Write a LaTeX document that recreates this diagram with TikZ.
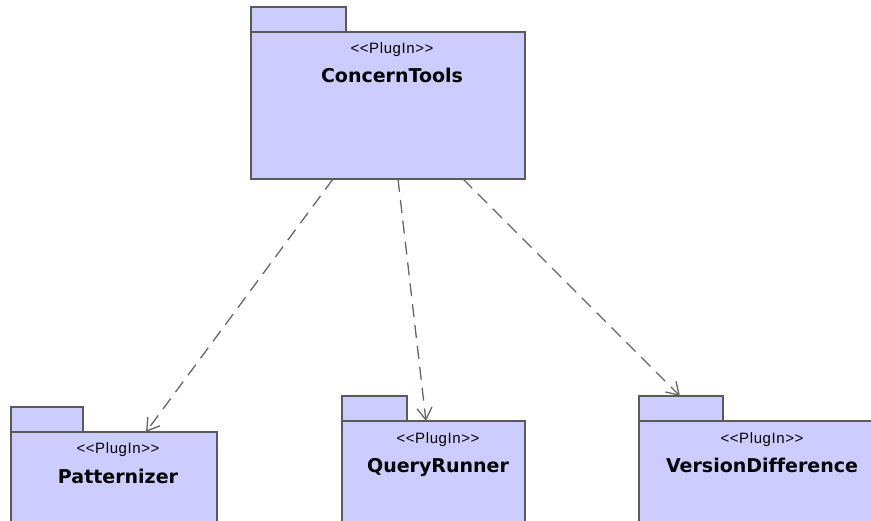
\documentclass[tikz,border=0pt]{standalone}
\usepackage{fontspec}
\setmainfont{Liberation Sans}
\newfontfamily\titlefont[Ligatures=CommonOff]{DejaVu Sans}
\usetikzlibrary{arrows.meta,calc}

\definecolor{pkgfill}{HTML}{CCCCFF}
\definecolor{pkgline}{HTML}{5A5A5A}
\definecolor{depline}{HTML}{666666}

\tikzset{
  x=1pt, y=-1pt,
  pkgbody/.style={draw=pkgline, fill=pkgfill, line width=1.4pt, rectangle,
    anchor=north west, inner sep=0pt, outer sep=0pt},
  pkgtab/.style={pkgbody},
  stereo/.style={anchor=base, inner sep=0pt, font=\fontsize{15}{17}\selectfont\addfontfeatures{LetterSpace=4}},
  pkgname/.style={anchor=base, inner sep=0pt, font=\titlefont\bfseries\fontsize{19}{22}\selectfont},
  dependency/.style={draw=depline, line width=1.3pt, dash pattern=on 13pt off 8pt,
    -{Straight Barb[length=12pt,width=15pt,line width=1.3pt]}}
}

\begin{document}
\begin{tikzpicture}
\useasboundingbox (0,0) rectangle (871,520);
\clip (0,0) rectangle (871,520);

% ConcernTools package
\node[pkgtab, minimum width=95pt, minimum height=25pt] (cttab) at (251,7) {};
\node[pkgbody, minimum width=274pt, minimum height=147pt] (ct) at (251,32) {};
\node[stereo] (ctst) at (392,53) {<{}<PlugIn>{}>};
\node[pkgname] (ctname) at (392,82) {ConcernTools};

% Patternizer package
\node[pkgtab, minimum width=72pt, minimum height=25pt] (pttab) at (11,407) {};
\node[pkgbody, minimum width=206pt, minimum height=120pt] (pt) at (11,432) {};
\node[stereo] (ptst) at (118,453) {<{}<PlugIn>{}>};
\node[pkgname] (ptname) at (118,483) {Patternizer};

% QueryRunner package
\node[pkgtab, minimum width=65pt, minimum height=25pt] (qrtab) at (342,396) {};
\node[pkgbody, minimum width=183pt, minimum height=130pt] (qr) at (342,421) {};
\node[stereo] (qrst) at (438,443) {<{}<PlugIn>{}>};
\node[pkgname] (qrname) at (438,472) {QueryRunner};

% VersionDifference package
\node[pkgtab, minimum width=84pt, minimum height=25pt] (vdtab) at (639,396) {};
\node[pkgbody, minimum width=260pt, minimum height=130pt] (vd) at (639,421) {};
\node[stereo] (vdst) at (762,443) {<{}<PlugIn>{}>};
\node[pkgname] (vdname) at (762,472) {VersionDifference};

% dependency end points
\coordinate (s1) at ($(ct.south west)+(82,0)$);
\coordinate (s2) at ($(ct.south west)+(147,0)$);
\coordinate (s3) at ($(ct.south west)+(212,0)$);
\coordinate (e1) at ($(pt.north west)+(135,0)$);
\coordinate (e2) at ($(qr.north west)+(84,0)$);
\coordinate (e3) at ($(vdtab.north west)+(41,0)$);

\draw[dependency] (s1) -- (e1);
\draw[dependency] (s2) -- (e2);
\draw[dependency] (s3) -- (e3);
\end{tikzpicture}
\end{document}
